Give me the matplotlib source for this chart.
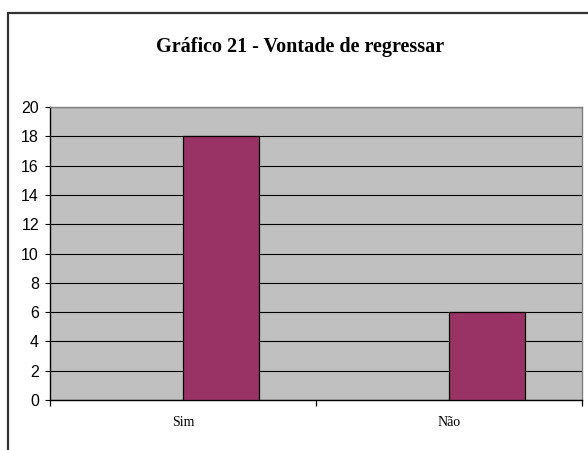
import matplotlib.pyplot as plt
from matplotlib.patches import Rectangle

# Data
categories = ["Sim", "Não"]
values = [18, 6]
y_ticks = list(range(0, 21, 2))

fig = plt.figure(figsize=(5.88, 4.5), dpi=100)
fig.patch.set_facecolor("white")

# outer chart frame (only left/top visible in the original)
frame = Rectangle((7.5 / 588, -0.05), 1.1, 1 - 12.5 / 450 + 0.05,
                  transform=fig.transFigure, fill=False,
                  edgecolor="#333333", linewidth=1.6, zorder=0)
fig.patches.append(frame)

ax = fig.add_axes([50 / 588, 50 / 450, 532 / 588, 293 / 450])
ax.set_facecolor("#C0C0C0")

x = list(range(len(categories)))
ax.bar(x, values, width=0.286, align="edge", color="#993366",
       edgecolor="black", linewidth=0.9, zorder=3)

ax.set_xlim(-0.5, len(categories) - 0.5)
ax.set_ylim(0, 20)
ax.set_yticks(y_ticks)
ax.yaxis.grid(True, color="black", linewidth=0.8)
ax.set_axisbelow(True)

ax.set_xticks(x)
ax.set_xticklabels(categories, fontfamily="Liberation Serif", fontsize=10)
ax.set_xticks([-0.5, 0.5, 1.5], minor=True)
ax.tick_params(axis="x", which="major", length=0, pad=11.5)
ax.tick_params(axis="x", which="minor", length=4, width=0.9, direction="out")
ax.tick_params(axis="y", length=3.5, width=0.8, pad=4.5)
for lab in ax.get_yticklabels():
    lab.set_fontfamily("Liberation Sans")
    lab.set_fontsize(11.5)

ax.spines["left"].set_color("black")
ax.spines["bottom"].set_color("black")
ax.spines["top"].set_color("#808080")
ax.spines["right"].set_color("#808080")
for s in ax.spines.values():
    s.set_linewidth(1.0)

fig.text(0.51, 1 - 47 / 450, "Gráfico 21 - Vontade de regressar",
         ha="center", va="center", fontfamily="Liberation Serif",
         fontweight="bold", fontsize=14.5)

fig.savefig("out.png", dpi=100)
